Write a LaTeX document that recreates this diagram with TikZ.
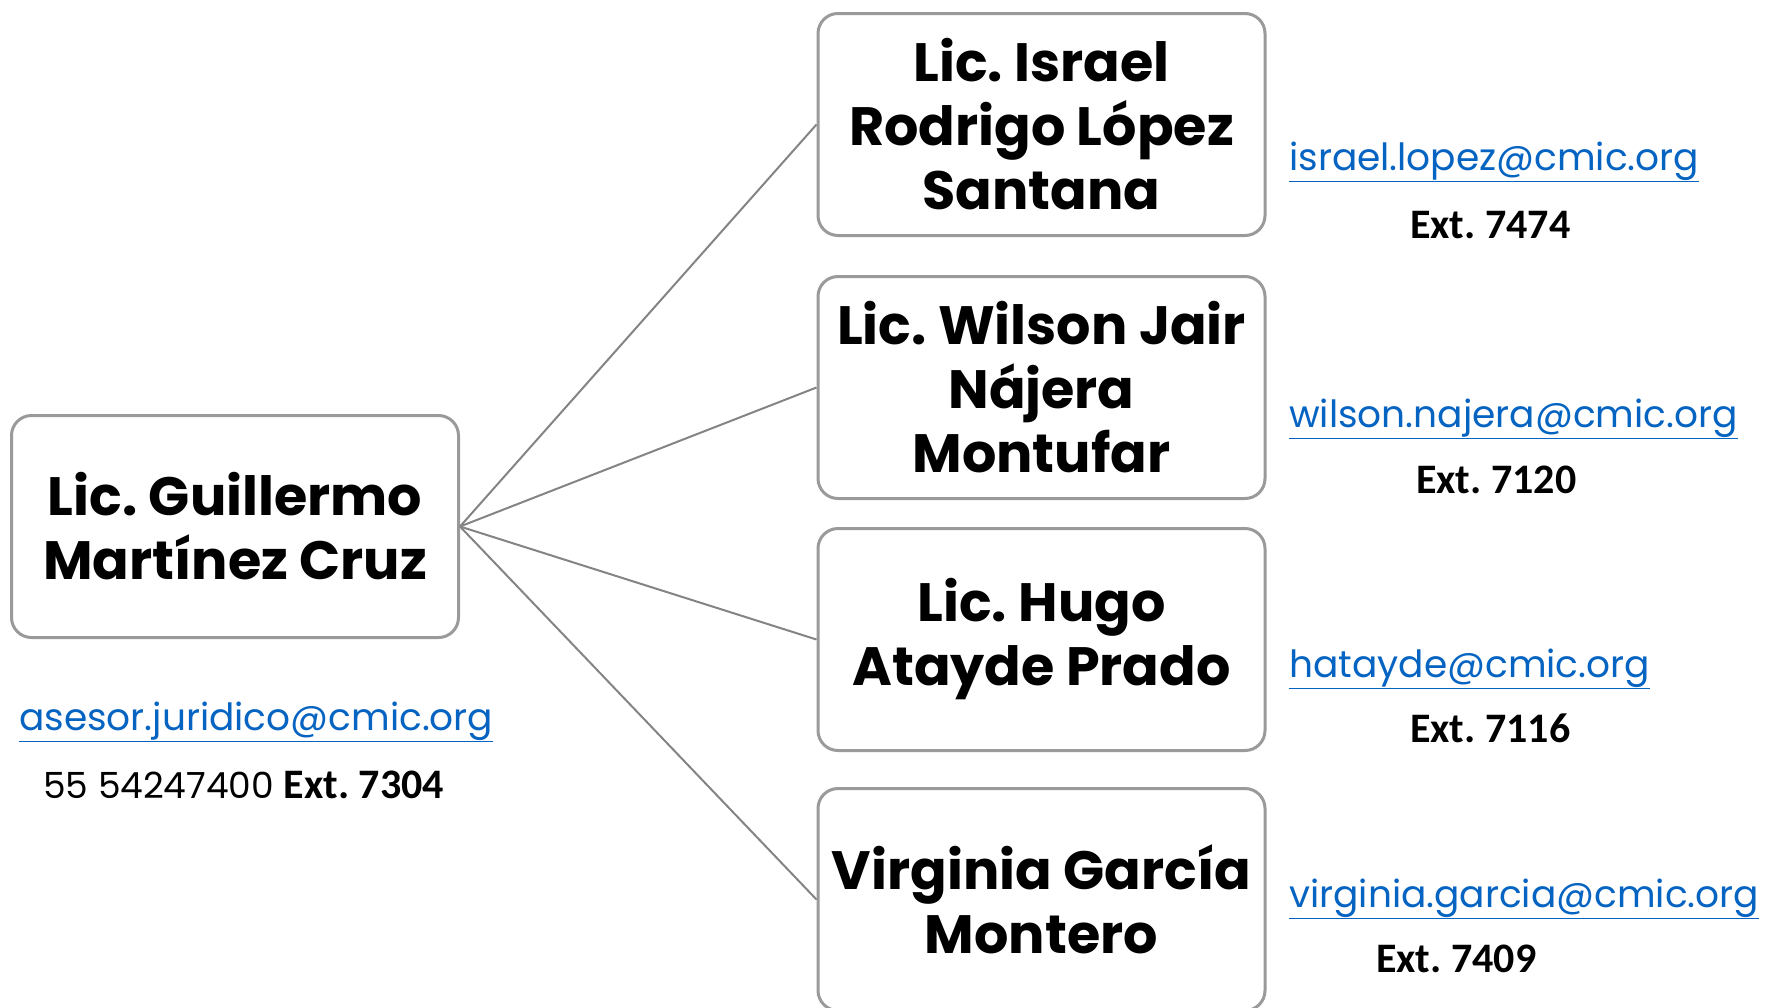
\documentclass[tikz,border=0pt]{standalone}
\usepackage{fontspec}
\setmainfont{Poppins}
\newfontfamily\extfont{Carlito}
\usepackage{tikz}
\usetikzlibrary{positioning}
\definecolor{linkblue}{HTML}{0563C1}
\definecolor{boxgray}{HTML}{9A9A9A}
\definecolor{linegray}{HTML}{848484}
\frenchspacing

\begin{document}
\begin{tikzpicture}[x=1pt, y=-1pt]
% STYLES
\tikzset{
    person/.style={rectangle, rounded corners=20pt, draw=boxgray, line width=3pt,
    align=center, minimum width=447pt, minimum height=222pt,
    inner sep=0pt, font=\fontsize{54}{64}\selectfont\bfseries},
    mail/.style={anchor=base west, inner sep=0pt, text=linkblue,
    font=\fontsize{37.5}{40}\selectfont},%
    extn/.style={anchor=base west, inner sep=0pt, font=\fontsize{42}{48}\extfont\bfseries},
    link/.style={draw=linegray, line width=2pt}
}
\useasboundingbox (0,0) rectangle (1766,1007);

\node [person] (Guillermo) at (235,526.5) {Lic. Guillermo\\Martínez Cruz};
\node [person] (Israel) at (1041.5,124.5) {Lic. Israel\\Rodrigo López\\Santana};
\node [person, below=38pt of Israel] (Wilson) {Lic. Wilson Jair\\Nájera\\Montufar};
\node [person, below=27pt of Wilson] (Hugo) {Lic. Hugo\\Atayde Prado};
\node [person, below=35pt of Hugo] (Virginia) {Virginia García\\Montero};

% Draw the links between
\path[link]
   (Guillermo.east) edge (Israel.west)
   (Guillermo.east) edge (Wilson.west)
   (Guillermo.east) edge (Hugo.west)
   (Guillermo.east) edge (Virginia.west);

% mails and extensions
\node [mail] (GuillermoMail) at (19,730) {\underline{asesor.juridico@cmic.org}};
\node [mail, text=black, font=\fontsize{36}{40}\selectfont] (GuillermoExt) at (43,798)
   {55 54247400 {\fontsize{42}{48}\extfont\bfseries Ext. 7304}};
\node [mail] (IsraelMail) at (1289,170) {\underline{israel.lopez@cmic.org}};
\node [extn] (IsraelExt) at (1410,238) {Ext. 7474};
\node [mail] (WilsonMail) at (1289,427) {\underline{wilson.najera@cmic.org}};
\node [extn] (WilsonExt) at (1416,493) {Ext. 7120};
\node [mail] (HugoMail) at (1289,677) {\underline{hatayde@cmic.org}};
\node [extn] (HugoExt) at (1410,742) {Ext. 7116};
\node [mail] (VirginiaMail) at (1289,907) {\underline{virginia.garcia@cmic.org}};
\node [extn] (VirginiaExt) at (1376,972) {Ext. 7409};

\end{tikzpicture}
\end{document}
